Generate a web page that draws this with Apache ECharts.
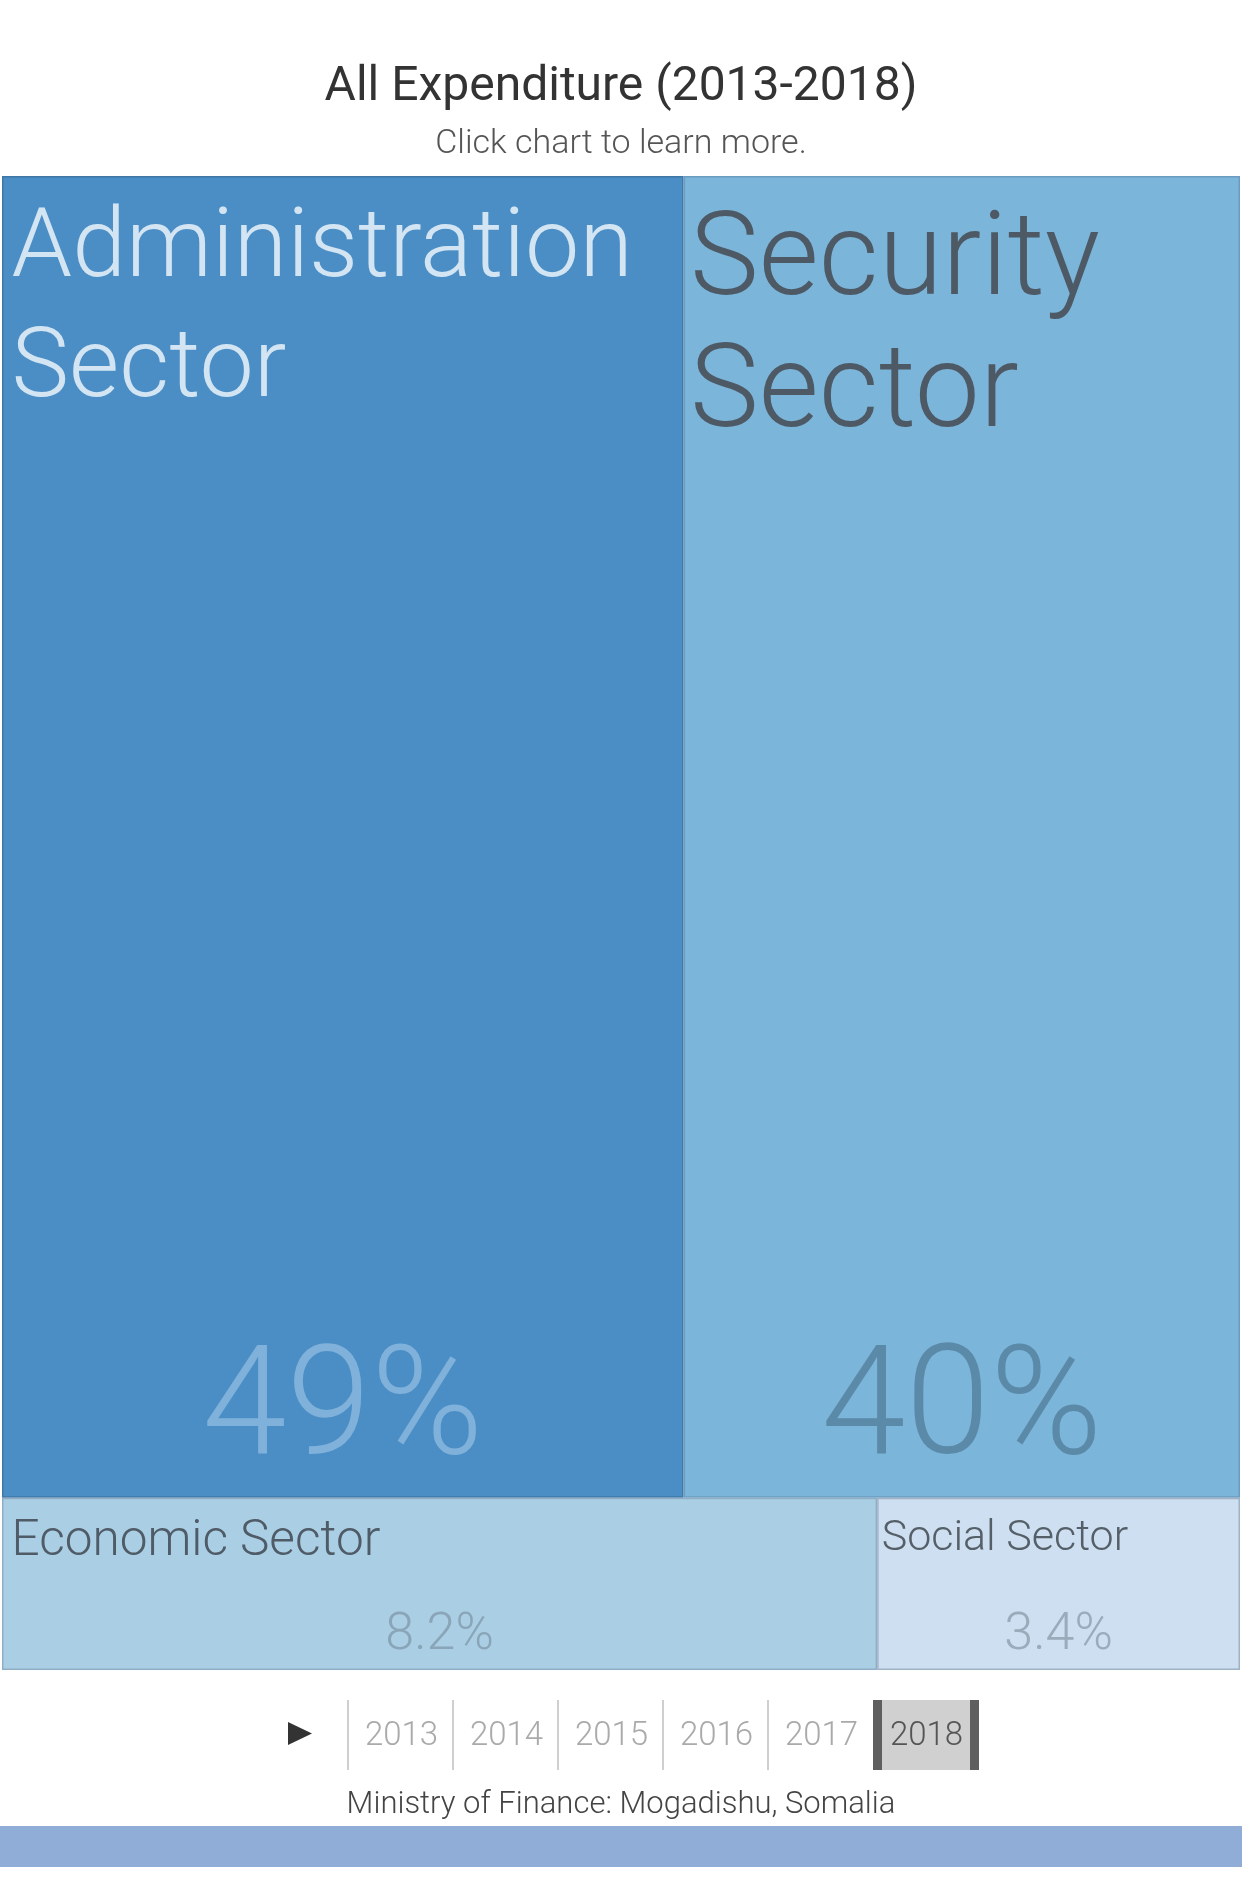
<!DOCTYPE html>
<html>
<head>
<meta charset="utf-8">
<script src="https://cdn.jsdelivr.net/npm/echarts@6/dist/echarts.min.js"></script>
<style>
  html, body { margin: 0; padding: 0; background: #ffffff; }
  #chart { width: 1242px; height: 1880px; }
</style>
</head>
<body>
<div id="chart"></div>
<script>
// ---- data ----
var sectorNames = ['Administration\nSector', 'Security\nSector', 'Economic Sector', 'Social Sector'];
var sectorValues = [49, 40, 8.2, 3.4];
var percentLabels = ['49%', '40%', '8.2%', '3.4%'];
var years = ['2013', '2014', '2015', '2016', '2017', '2018'];
var currentYearIndex = 5;
var titleText = 'All Expenditure (2013-2018)';
var subtitleText = 'Click chart to learn more.';
var footerText = 'Ministry of Finance: Mogadishu, Somalia';

// ---- styles ----
var FONT = 'Roboto';
var fills = ['#4a8ec5', '#7cb5da', '#aacfe5', '#cddff0'];
var borders = ['#3f77a6', '#6b9cc0', '#8faec5', '#9fb2c6'];
var nameColors = ['#d3e5f3', '#4d5a65', '#4f5b66', '#555f68'];
var nameSizes = [97, 116, 49.5, 43];
var nameLineHeights = [120, 132, 56, 50];
var nameOffsets = [[3, 9], [0, 16], [3, 10], [-2, 10]];
var pctColors = ['#7fb1da', '#5b8aa9', '#8aa5b8', '#9aabbb'];
var pctSizes = [152, 152, 52, 52];
var pctDistances = [0, 0, 2, 2];

function buildData(mode) {
  return sectorNames.map(function (n, i) {
    var lbl = mode === 'name' ? {
      show: true,
      position: nameOffsets[i],
      formatter: n,
      color: nameColors[i],
      fontFamily: FONT,
      fontWeight: 300,
      fontSize: nameSizes[i],
      lineHeight: nameLineHeights[i],
      align: 'left',
      verticalAlign: 'top',
      overflow: 'none'
    } : {
      show: true,
      position: 'insideBottom',
      distance: pctDistances[i],
      formatter: percentLabels[i],
      color: pctColors[i],
      fontFamily: FONT,
      fontWeight: 300,
      fontSize: pctSizes[i],
      overflow: 'none'
    };
    return {
      name: n,
      value: sectorValues[i],
      itemStyle: mode === 'name' ? {
        color: fills[i],
        borderColor: borders[i],
        borderWidth: 1.5
      } : {
        color: 'rgba(0,0,0,0)',
        borderColor: 'rgba(0,0,0,0)',
        borderWidth: 1.5
      },
      label: lbl
    };
  });
}

function treemapSeries(mode) {
  return {
    type: 'treemap',
    left: 2, top: 176, right: 2, bottom: 210,
    roam: false,
    nodeClick: false,
    silent: mode !== 'name',
    breadcrumb: { show: false },
    sort: 'desc',
    itemStyle: { borderWidth: 0, gapWidth: 0 },
    emphasis: { disabled: true },
    animation: false,
    data: buildData(mode)
  };
}

// ---- timeline drawn as graphic ----
var tlLeft = 348, tlCell = 105, tlTop = 1700, tlH = 70;
var graphics = [];
graphics.push({
  type: 'polygon',
  shape: { points: [[288, 1722], [312, 1733.5], [288, 1745]] },
  style: { fill: '#333333' }
});
years.forEach(function (y, i) {
  var x0 = tlLeft + i * tlCell;
  if (i === currentYearIndex) {
    graphics.push({ type: 'rect', shape: { x: x0, y: tlTop, width: tlCell + 1, height: tlH }, style: { fill: '#d0d0d0' } });
    graphics.push({ type: 'rect', shape: { x: x0, y: tlTop, width: 9, height: tlH }, style: { fill: '#5f5f5f' } });
    graphics.push({ type: 'rect', shape: { x: x0 + tlCell - 8, y: tlTop, width: 9, height: tlH }, style: { fill: '#5f5f5f' } });
  } else {
    graphics.push({ type: 'rect', shape: { x: x0 - 1, y: tlTop, width: 2, height: tlH }, style: { fill: '#cfcfcf' } });
  }
  graphics.push({
    type: 'text',
    x: x0 + tlCell / 2 + 1, y: 1737,
    style: {
      text: y, fill: i === currentYearIndex ? '#555555' : '#aaaaaa',
      font: '300 33px ' + FONT, align: 'center', verticalAlign: 'middle'
    }
  });
});
graphics.push({
  type: 'text', x: 621, y: 1805,
  style: { text: footerText, fill: '#444444', font: '300 31px ' + FONT, align: 'center', verticalAlign: 'middle' }
});
graphics.push({
  type: 'rect', shape: { x: 0, y: 1826, width: 1242, height: 41 }, style: { fill: '#8fadd6' }
});

var chart = echarts.init(document.getElementById('chart'), null, { renderer: 'canvas' });
chart.setOption({
  backgroundColor: '#ffffff',
  animation: false,
  title: {
    text: titleText,
    subtext: subtitleText,
    left: 'center',
    top: 59,
    itemGap: 15,
    textStyle: { fontFamily: FONT, fontWeight: 400, fontSize: 48, color: '#333333' },
    subtextStyle: { fontFamily: FONT, fontWeight: 300, fontSize: 34, color: '#555555' }
  },
  tooltip: { show: false },
  series: [treemapSeries('name'), treemapSeries('pct')],
  graphic: graphics
});
</script>
</body>
</html>
